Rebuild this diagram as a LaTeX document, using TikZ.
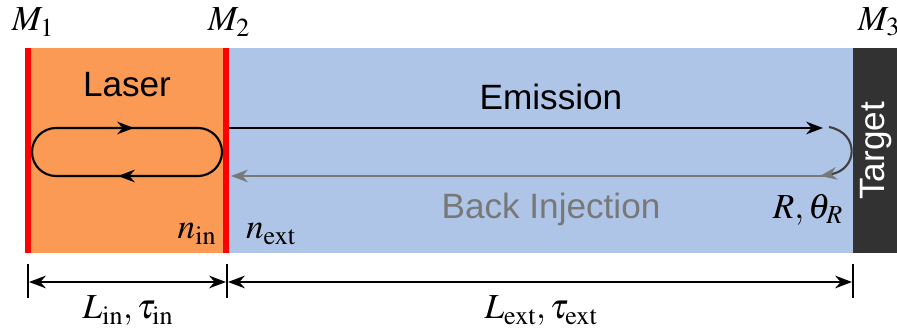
\documentclass[tikz,border=0pt]{standalone}
\usepackage{mathptmx}
\usepackage{fontspec}
\setmainfont{Liberation Serif}
\setsansfont{Liberation Sans}
\usetikzlibrary{arrows.meta}

\definecolor{laserorange}{RGB}{250,154,85}
\definecolor{cavityblue}{RGB}{174,197,232}
\definecolor{targetgray}{RGB}{50,50,50}
\definecolor{backgray}{RGB}{120,120,120}

\tikzset{
  beam/.style={line width=1.5pt, black},
  back/.style={line width=1.5pt, backgray},
  mirror/.style={line width=3.6pt, red},
  dimline/.style={line width=1.5pt, black, {Stealth[length=12pt,width=9pt]}-{Stealth[length=12pt,width=9pt]}},
  tick/.style={line width=1.7pt, black},
  mathlbl/.style={font=\fontsize{25}{28}\selectfont, inner sep=0pt},
}

\begin{document}
\begin{tikzpicture}[x=0.025cm, y=-0.025cm, >={Stealth[length=12pt,width=9pt]}, font=\sffamily\fontsize{25}{28}\selectfont]

\useasboundingbox (0,0) rectangle (897,333);

% Regions
\fill[laserorange] (27,48) rectangle (227,253);
\fill[cavityblue] (227,48) rectangle (853,253);
\fill[targetgray] (853,48) rectangle (897,253);

% Mirrors
\draw[mirror] (28,48) -- (28,253);
\draw[mirror] (226,48) -- (226,253);

% Mirror labels
\node[mathlbl] (m1) at (33,22) {$M_1$};
\node[mathlbl] (m2) at (229,22) {$M_2$};
\node[mathlbl] (m3) at (879,22) {$M_3$};

% Texts
\node (laser) at (127,85) {Laser};
\node (emission) at (551,97) {Emission};
\node[text=backgray] (backinj) at (551,209) {Back Injection};
\node[text=white, rotate=90] (target) at (876,151) {Target};
\node[mathlbl] (nin) at (197,234) {$n_{\mathrm{in}}$};
\node[mathlbl] (next) at (271,234) {$n_{\mathrm{ext}}$};
\node[mathlbl] (refl) at (808,210) {$R,\theta_R$};

% Round trip inside the laser
\draw[beam, rounded corners=0.6cm] (32,128) rectangle (222,176);
\draw[beam, ->] (110,128) -- (134,128);
\draw[beam, ->] (145,176) -- (118,176);

% Emission and back injection
\coordinate (emitstart) at (229,128);
\coordinate (emitend) at (823,128);
\coordinate (turnstart) at (829,127);
\coordinate (turnend) at (820,176);
\coordinate (backstart) at (828,176);
\coordinate (backend) at (231,176);
\draw[beam, ->] (emitstart) -- (emitend);
\draw[line width=1.5pt, black!75, ->, >={Stealth[length=12pt,width=9pt,backgray]}] (turnstart) .. controls (860,133) and (858,170) .. (turnend);
\draw[back, ->] (backstart) -- (backend);

% Dimensions
\draw[tick] (28,264) -- (28,298);
\draw[tick] (227,264) -- (227,298);
\draw[tick] (853,264) -- (853,298);
\coordinate (inleft) at (29,282);
\coordinate (inright) at (226,282);
\coordinate (extleft) at (228,282);
\coordinate (extright) at (852,282);
\draw[dimline] (inleft) -- (inright);
\draw[dimline] (extleft) -- (extright);
\node[mathlbl] (lin) at (128,311) {$L_{\mathrm{in}},\tau_{\mathrm{in}}$};
\node[mathlbl] (lext) at (541,311) {$L_{\mathrm{ext}},\tau_{\mathrm{ext}}$};

\end{tikzpicture}
\end{document}
